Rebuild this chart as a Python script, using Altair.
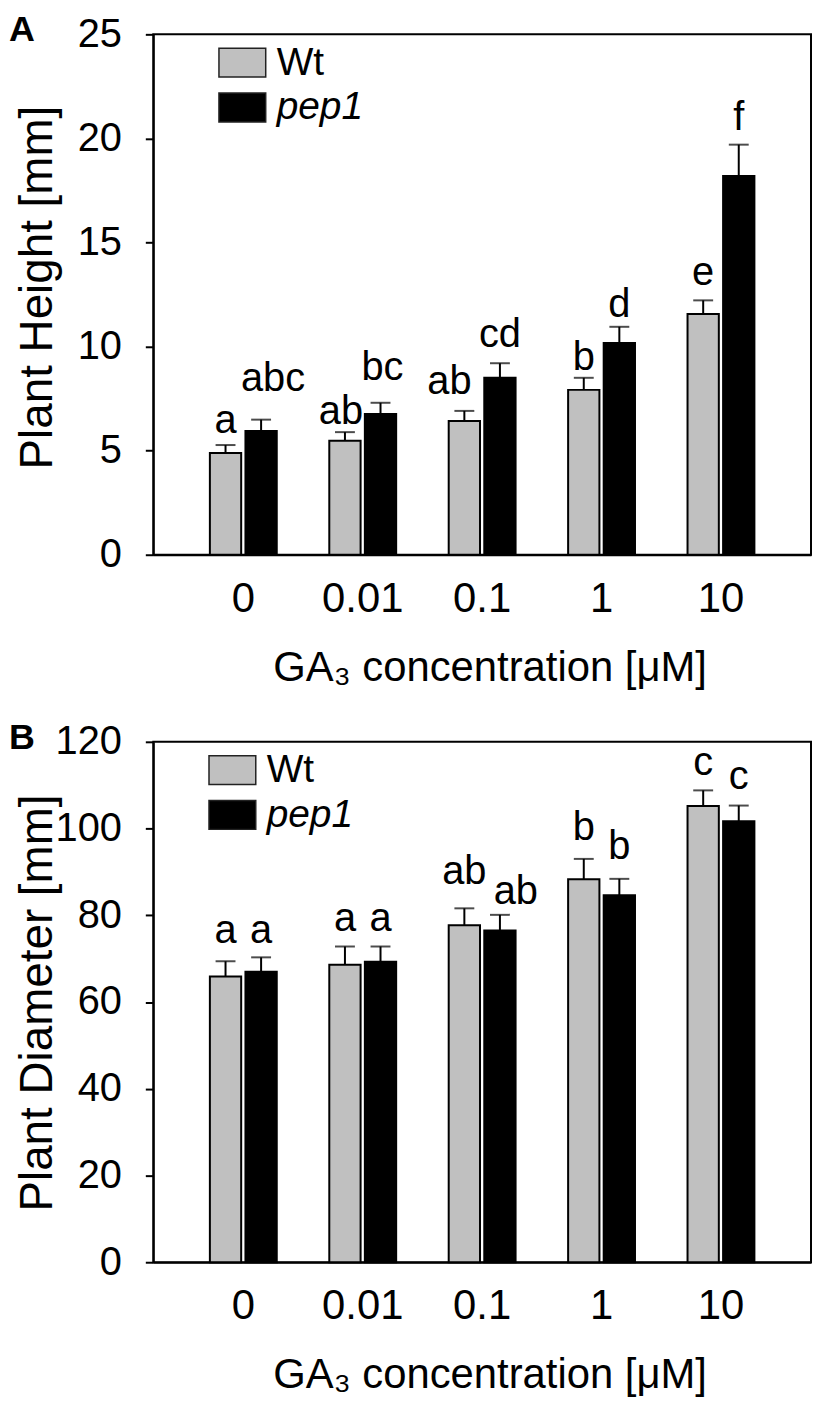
import altair as alt
import pandas as pd

FONT = "Liberation Sans"

conc = ["0", "0.01", "0.1", "1", "10"]
series = ["Wt", "pep1"]

# Panel A: plant height [mm]
height_wt = [4.89, 5.48, 6.42, 7.92, 11.56]
height_wt_se = [0.38, 0.41, 0.49, 0.58, 0.66]
height_pep = [5.94, 6.76, 8.50, 10.17, 18.20]
height_pep_se = [0.55, 0.54, 0.70, 0.78, 1.50]
height_letters_wt = ["a", "ab", "ab", "b", "e"]
height_letters_pep = ["abc", "bc", "cd", "d", "f"]
height_label_wt = [5.87, 6.28, 7.72, 8.87, 12.98]
height_label_pep = [7.89, 8.38, 10.0, 11.43, 20.39]

# Panel B: plant diameter [mm]
diam_wt = [65.9, 68.6, 77.7, 88.3, 105.2]
diam_wt_se = [3.5, 4.2, 3.9, 4.7, 3.6]
diam_pep = [67.0, 69.3, 76.5, 84.6, 101.7]
diam_pep_se = [3.3, 3.5, 3.6, 3.8, 3.6]
diam_letters_wt = ["a", "a", "ab", "b", "c"]
diam_letters_pep = ["a", "a", "ab", "b", "c"]
diam_label_wt = [73.7, 76.4, 87.3, 97.4, 112.3]
diam_label_pep = [73.7, 76.4, 82.6, 93.0, 109.2]

# horizontal nudges (px) of a few crowded significance letters, as placed in the figure
NUDGE_A = {("0", "pep1"): 12, ("0.01", "Wt"): -4, ("0.01", "pep1"): 2, ("0.1", "Wt"): -15}
NUDGE_B = {("0.1", "pep1"): 16}


def make_df(mw, sw, mp, sp, lw, lp, yw, yp, nudge):
    rows = []
    for i, c in enumerate(conc):
        rows.append(dict(conc=c, series="Wt", mean=mw[i], top=mw[i] + sw[i], letter=lw[i], laby=yw[i],
                         nudge=nudge.get((c, "Wt"), 0)))
        rows.append(dict(conc=c, series="pep1", mean=mp[i], top=mp[i] + sp[i], letter=lp[i], laby=yp[i],
                         nudge=nudge.get((c, "pep1"), 0)))
    return pd.DataFrame(rows)


def panel(df, letter, ytitle, ymax, ystep, legend_x, title_y):
    xenc = alt.X(
        "conc:N", sort=conc,
        scale=alt.Scale(paddingInner=0.44, paddingOuter=0.474),
        axis=alt.Axis(title="GA₃ concentration [μM]", labelAngle=0, ticks=False, tickSize=0,
                      labelPadding=24, labelFontSize=42, titleFontSize=42,
                      titleBaseline="alphabetic", titleY=126, titleX=338),
    )
    xoff = alt.XOffset("series:N", sort=series, scale=alt.Scale(paddingInner=0.12, paddingOuter=0))
    yscale = alt.Scale(domain=[0, ymax], nice=False)
    yaxis = alt.Axis(values=list(range(0, ymax + 1, ystep)), title=ytitle, tickSize=8, tickWidth=2,
                     labelPadding=24, labelFontSize=40, titleFontSize=46, grid=False,
                     titleX=-102, titleY=title_y, titleBaseline="alphabetic")
    base = alt.Chart(df).encode(x=xenc, xOffset=xoff)
    bars = base.mark_bar(stroke="black", strokeWidth=2).encode(
        y=alt.Y("mean:Q", scale=yscale, axis=yaxis),
        color=alt.Color(
            "series:N",
            scale=alt.Scale(domain=series, range=["#c0c0c0", "#000000"]),
            legend=alt.Legend(
                title=None, orient="none", legendX=legend_x, legendY=4,
                symbolType="M-1,-0.617H1V0.617H-1Z", symbolSize=2209,
                symbolStrokeColor="#222222", symbolStrokeWidth=1.5,
                labelFontSize=39, labelFont=FONT, labelOffset=10, rowPadding=0,
                labelFontStyle={"expr": "datum.label == 'pep1' ? 'italic' : 'normal'"},
            ),
        ),
    )
    err = base.mark_rule(strokeWidth=2, color="black").encode(y="mean:Q", y2="top:Q")
    caps = base.mark_tick(size=20, thickness=2, color="black", orient="horizontal").encode(y="top:Q")
    labels = base.mark_text(fontSize=40, font=FONT, baseline="alphabetic", color="black",
                            dx={"expr": "datum.nudge"}).encode(
        y="laby:Q", text="letter:N"
    )
    tag = alt.Chart(pd.DataFrame({"t": [letter]})).mark_text(
        fontSize=36, fontWeight="bold", font=FONT, align="left", baseline="top", color="black"
    ).encode(x=alt.value(-145), y=alt.value(-21), text="t:N")
    return alt.layer(bars, err, caps, labels, tag).properties(width=661, height=523)


dfA = make_df(height_wt, height_wt_se, height_pep, height_pep_se,
              height_letters_wt, height_letters_pep, height_label_wt, height_label_pep, NUDGE_A)
dfB = make_df(diam_wt, diam_wt_se, diam_pep, diam_pep_se,
              diam_letters_wt, diam_letters_pep, diam_label_wt, diam_label_pep, NUDGE_B)

chartA = panel(dfA, "A", "Plant Height [mm]", 25, 5, 65, 254)
chartB = panel(dfB, "B", "Plant Diameter [mm]", 120, 20, 55, 262)

chart = alt.vconcat(chartA, chartB, spacing=30).resolve_scale(
    x="independent", y="independent", color="independent", xOffset="independent"
).resolve_legend(color="independent").configure(
    padding={"top": 0, "left": 0, "right": 0, "bottom": 0}
).configure_view(stroke="black", strokeWidth=2).configure_axis(
    domainColor="black", domainWidth=2, tickColor="black", labelColor="black", titleColor="black",
    labelFont=FONT, titleFont=FONT, titleFontWeight="normal"
)

chart.save("out.html", embed_options={"renderer": "svg", "actions": False})
